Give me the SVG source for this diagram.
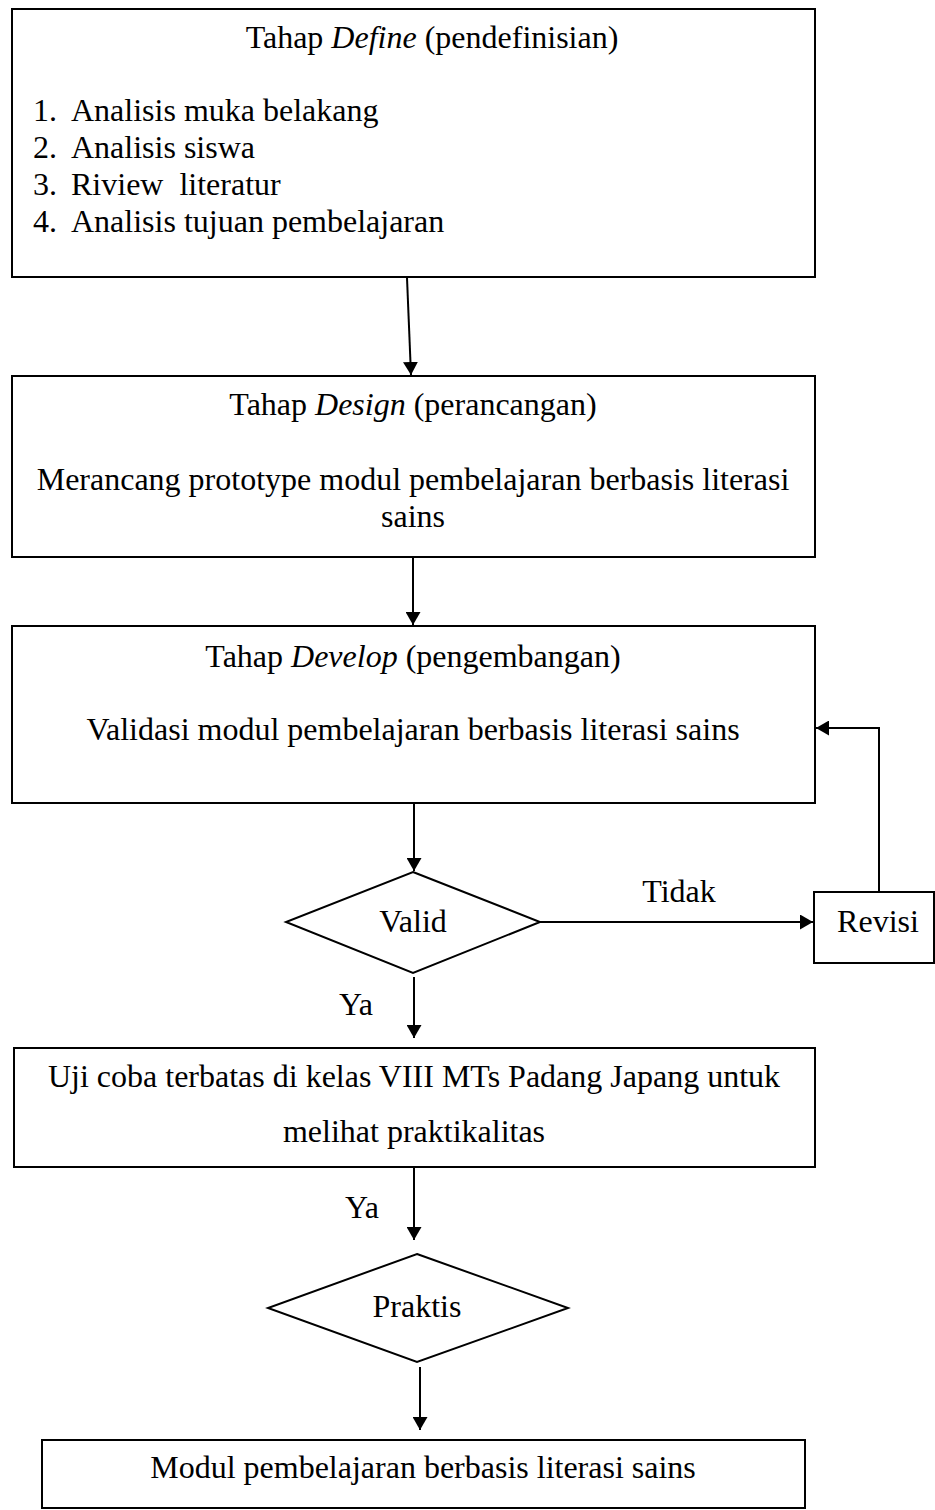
<svg xmlns="http://www.w3.org/2000/svg" width="935" height="1510" viewBox="0 0 935 1510">
<style>
.box{fill:#fff;stroke:#000;stroke-width:2}
.t{font-family:"Liberation Serif","Times New Roman",serif;font-size:32px;fill:#000}
.c{text-anchor:middle}
.conn{stroke:#000;stroke-width:2;fill:none}
</style>
<defs>
<marker id="ah" markerUnits="userSpaceOnUse" markerWidth="14" markerHeight="15" refX="13" refY="7.5" orient="auto">
<path d="M0,0 L13,7.5 L0,15 z" fill="#000"/>
</marker>
</defs>
<rect width="935" height="1510" fill="#fff"/>

<g id="connectors">
<line class="conn" x1="407" y1="278" x2="411" y2="375" marker-end="url(#ah)"/>
<line class="conn" x1="413" y1="557" x2="413" y2="625" marker-end="url(#ah)"/>
<line class="conn" x1="414" y1="803" x2="414" y2="871" marker-end="url(#ah)"/>
<line class="conn" x1="540" y1="922" x2="813" y2="922" marker-end="url(#ah)"/>
<polyline class="conn" points="879,892 879,728 816,728" marker-end="url(#ah)"/>
<line class="conn" x1="414" y1="977" x2="414" y2="1038" marker-end="url(#ah)"/>
<line class="conn" x1="414" y1="1167" x2="414" y2="1240" marker-end="url(#ah)"/>
<line class="conn" x1="420" y1="1367" x2="420" y2="1430" marker-end="url(#ah)"/>
<text class="t c" x="679" y="902">Tidak</text>
<text class="t c" x="356" y="1015">Ya</text>
<text class="t c" x="362" y="1218">Ya</text>
</g>

<g id="define">
<rect class="box" x="12" y="9" width="803" height="268"/>
<text class="t c" x="432" y="48">Tahap <tspan font-style="italic">Define</tspan> (pendefinisian)</text>
<text class="t" x="33" y="121">1.</text><text class="t" x="71" y="121">Analisis muka belakang</text>
<text class="t" x="33" y="158">2.</text><text class="t" x="71" y="158">Analisis siswa</text>
<text class="t" x="33" y="195">3.</text><text class="t" x="71" y="195" xml:space="preserve">Riview  literatur</text>
<text class="t" x="33" y="232">4.</text><text class="t" x="71" y="232">Analisis tujuan pembelajaran</text>
</g>

<g id="design">
<rect class="box" x="12" y="376" width="803" height="181"/>
<text class="t c" x="413" y="415">Tahap <tspan font-style="italic">Design</tspan> (perancangan)</text>
<text class="t c" x="413" y="490">Merancang prototype modul pembelajaran berbasis literasi</text>
<text class="t c" x="413" y="527">sains</text>
</g>

<g id="develop">
<rect class="box" x="12" y="626" width="803" height="177"/>
<text class="t c" x="413" y="667">Tahap <tspan font-style="italic">Develop</tspan> (pengembangan)</text>
<text class="t c" x="413" y="740">Validasi modul pembelajaran berbasis literasi sains</text>
</g>

<g id="valid">
<polygon class="box" points="413,872 540,922 413,973 286,922"/>
<text class="t c" x="413" y="932">Valid</text>
</g>

<g id="revisi">
<rect class="box" x="814" y="892" width="120" height="71"/>
<text class="t c" x="878" y="932">Revisi</text>
</g>

<g id="ujicoba">
<rect class="box" x="14" y="1048" width="801" height="119"/>
<text class="t c" x="414" y="1087">Uji coba terbatas di kelas VIII MTs Padang Japang untuk</text>
<text class="t c" x="414" y="1142">melihat praktikalitas</text>
</g>

<g id="praktis">
<polygon class="box" points="417,1254 568,1308 417,1362 268,1308"/>
<text class="t c" x="417" y="1317">Praktis</text>
</g>

<g id="modul">
<rect class="box" x="42" y="1440" width="763" height="68"/>
<text class="t c" x="423" y="1478">Modul pembelajaran berbasis literasi sains</text>
</g>
</svg>
